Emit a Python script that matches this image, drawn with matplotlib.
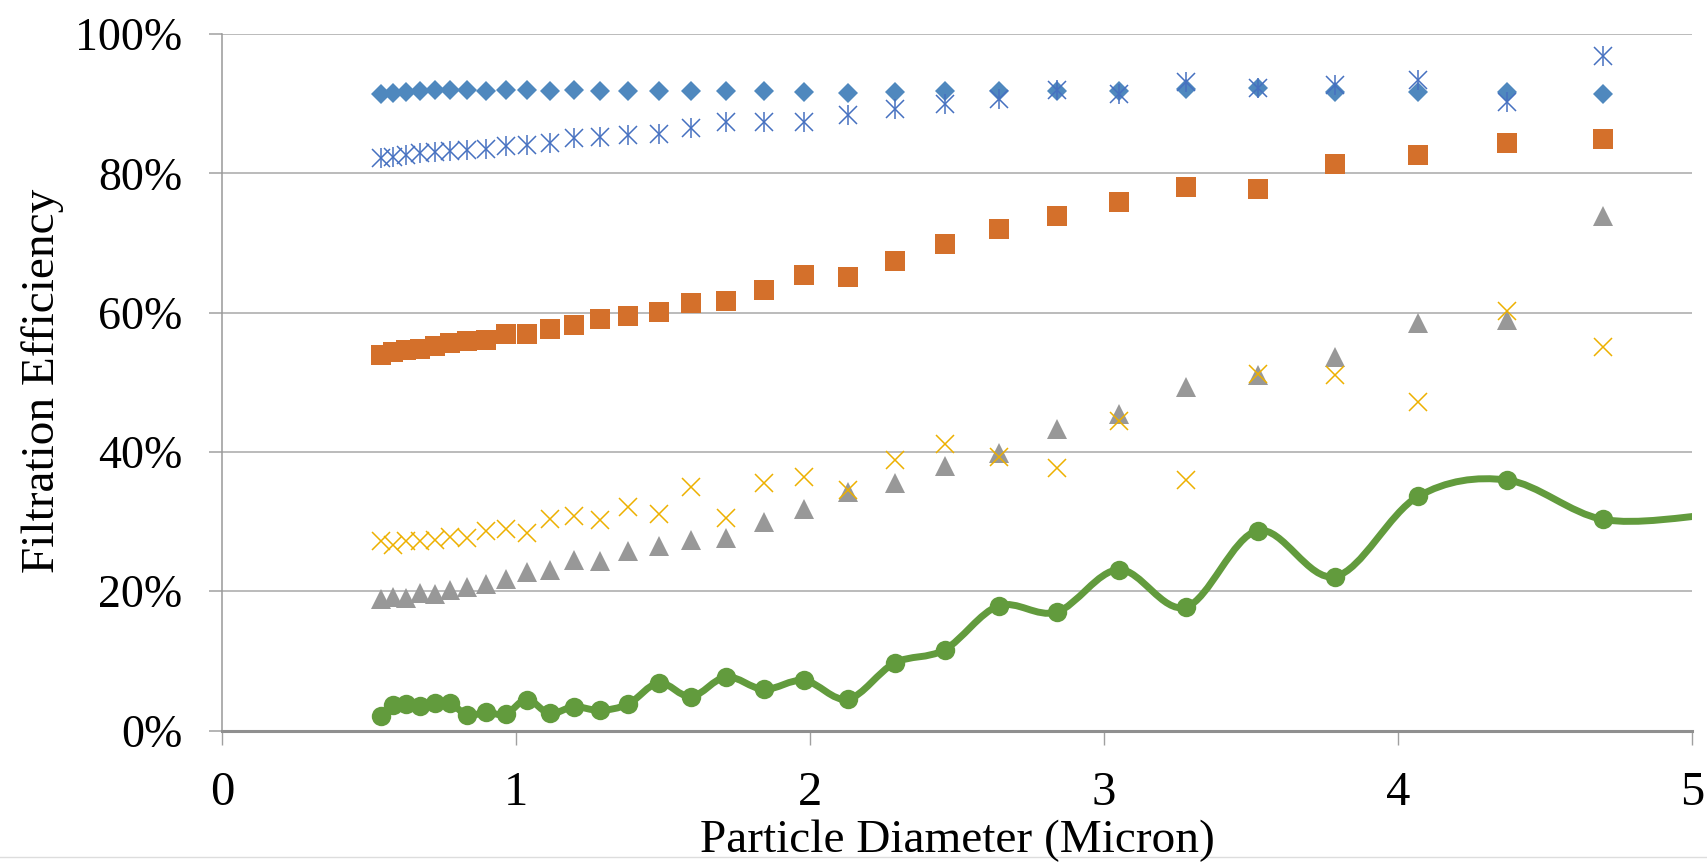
import numpy as np
import matplotlib.pyplot as plt
from matplotlib.path import Path
from matplotlib.patches import PathPatch
from matplotlib.lines import Line2D

plt.rcParams['font.family'] = ['Liberation Serif', 'DejaVu Serif']

# particle diameter (micron), APS channel midpoints
diameter = [0.542, 0.583, 0.626, 0.673, 0.723, 0.777, 0.835, 0.898, 0.965, 1.037,
            1.114, 1.197, 1.286, 1.382, 1.486, 1.596, 1.715, 1.843, 1.981, 2.129,
            2.288, 2.458, 2.642, 2.839, 3.051, 3.278, 3.523, 3.786, 4.068, 4.371, 4.698]

# filtration efficiency (%) per series
diamond_eff = [91.4, 91.5, 91.7, 91.8, 91.9, 91.9, 91.9, 91.8, 91.9, 91.9,
               91.8, 91.9, 91.8, 91.8, 91.8, 91.8, 91.8, 91.8, 91.7, 91.6,
               91.7, 91.8, 91.8, 91.85, 91.8, 92.1, 92.2, 91.7, 91.7, 91.7, 91.45]
star_eff = [82.25, 82.4, 82.6, 82.9, 83.0, 83.2, 83.4, 83.5, 83.95, 84.05,
            84.4, 85.0, 85.25, 85.5, 85.7, 86.45, 87.3, 87.3, 87.4, 88.3,
            89.3, 90.0, 90.7, 91.9, 91.45, 93.1, 92.3, 92.65, 93.4, 90.3, 96.9]
square_eff = [53.9, 54.4, 54.6, 54.8, 55.2, 55.7, 55.9, 56.1, 56.9, 56.9,
              57.7, 58.2, 59.15, 59.5, 60.1, 61.4, 61.6, 63.2, 65.35, 65.1,
              67.35, 69.9, 72.0, 73.9, 75.85, 78.05, 77.8, 81.35, 82.6, 84.35, 84.97]
triangle_eff = [18.9, 19.15, 19.0, 19.7, 19.6, 20.2, 20.6, 21.0, 21.8, 22.8,
                23.1, 24.5, 24.4, 25.7, 26.55, 27.3, 27.65, 29.9, 31.8, 34.2,
                35.6, 38.0, 39.8, 43.3, 45.4, 49.3, 51.0, 53.6, 58.5, 59.0, 73.9]
cross_eff = [27.2, 26.7, 27.2, 27.2, 27.3, 27.75, 27.65, 28.7, 28.9, 28.3,
             30.4, 30.85, 30.2, 32.1, 31.1, 34.9, 30.5, 35.5, 36.4, 34.5,
             38.9, 41.1, 39.2, 37.7, 44.45, 35.96, 51.2, 51.0, 47.2, 60.3, 55.1]
# green series has one more point just past the axis end
green_diameter = diameter + [5.048]
green_eff = [2.1, 3.65, 3.75, 3.5, 4.0, 3.9, 2.2, 2.6, 2.35, 4.45,
             2.45, 3.4, 2.9, 3.8, 6.85, 4.85, 7.7, 5.9, 7.2, 4.5,
             9.7, 11.6, 17.9, 17.0, 23.1, 17.7, 28.7, 22.1, 33.6, 35.96, 30.3, 30.9]

x_ticks = [0, 1, 2, 3, 4, 5]
y_ticks = [0, 20, 40, 60, 80, 100]


def smooth_path(x, y):
    # Catmull-Rom style bezier, like Excel's smoothed line
    pts = np.column_stack([x, y])
    p = np.vstack([pts[0], pts, pts[-1]])
    verts = [pts[0]]
    codes = [Path.MOVETO]
    for i in range(1, len(p) - 2):
        p0, p1, p2, p3 = p[i - 1], p[i], p[i + 1], p[i + 2]
        verts += [p1 + (p2 - p0) / 6, p2 - (p3 - p1) / 6, p2]
        codes += [Path.CURVE4] * 3
    return Path(verts, codes)


fig = plt.figure(figsize=(17.08, 8.66), dpi=100)
ax = fig.add_axes([222 / 1708, 1 - 730.5 / 866, 1470 / 1708, 696.5 / 866])

ax.plot(diameter, diamond_eff, ls='none', marker='D', ms=10.2, mew=0, color='#4F88BE')
ax.plot(diameter, square_eff, ls='none', marker='s', ms=14.2, mew=0, color='#D4702B')
ax.plot(diameter, triangle_eff, ls='none', marker='^', ms=14.4, mew=0, color='#989898')
ax.plot(diameter, cross_eff, ls='none', marker='x', ms=13.5, mew=1.1, color='#EDB000')
ax.plot(diameter, star_eff, ls='none', marker='x', ms=13.5, mew=1.1, color='#4670C0')
ax.plot(diameter, star_eff, ls='none', marker='|', ms=14, mew=1.1, color='#4670C0')

ax.add_patch(PathPatch(smooth_path(green_diameter, green_eff), fill=False,
                       edgecolor='#629B3D', lw=5, capstyle='round', zorder=3))
ax.plot(green_diameter, green_eff, ls='none', marker='o', ms=14, mew=0, color='#629B3D', zorder=4)

ax.set_xlim(0, 5)
ax.set_ylim(0, 100)
ax.set_xticks(x_ticks)
ax.set_yticks(y_ticks)
ax.set_yticklabels([f'{v}%' for v in y_ticks])

ax.yaxis.grid(True, color='#A8A8A8', lw=1.1)
ax.set_axisbelow(True)
for s in ['top', 'right']:
    ax.spines[s].set_visible(False)
ax.spines['left'].set_color('#999999')
ax.spines['left'].set_linewidth(1.1)
ax.spines['bottom'].set_color('#8F8F8F')
ax.spines['bottom'].set_linewidth(2.2)

ax.tick_params(axis='x', direction='out', length=10, width=1, color='#A0A0A0',
               pad=19, labelsize=35)
ax.tick_params(axis='y', direction='out', length=9.6, width=1.1, color='#A0A0A0',
               pad=19, labelsize=33)

fig.text(0.025, 0.56, 'Filtration Efficiency', rotation=90, ha='center', va='center', fontsize=34)
fig.text(0.5603, 0.016, 'Particle Diameter (Micron)', ha='center', va='baseline', fontsize=34)

# faint border line at the bottom of the chart area
fig.add_artist(Line2D([0, 1], [0.0099, 0.0099], color='#DDDDDD', lw=1, zorder=0))

fig.savefig('out.png', dpi=100)
